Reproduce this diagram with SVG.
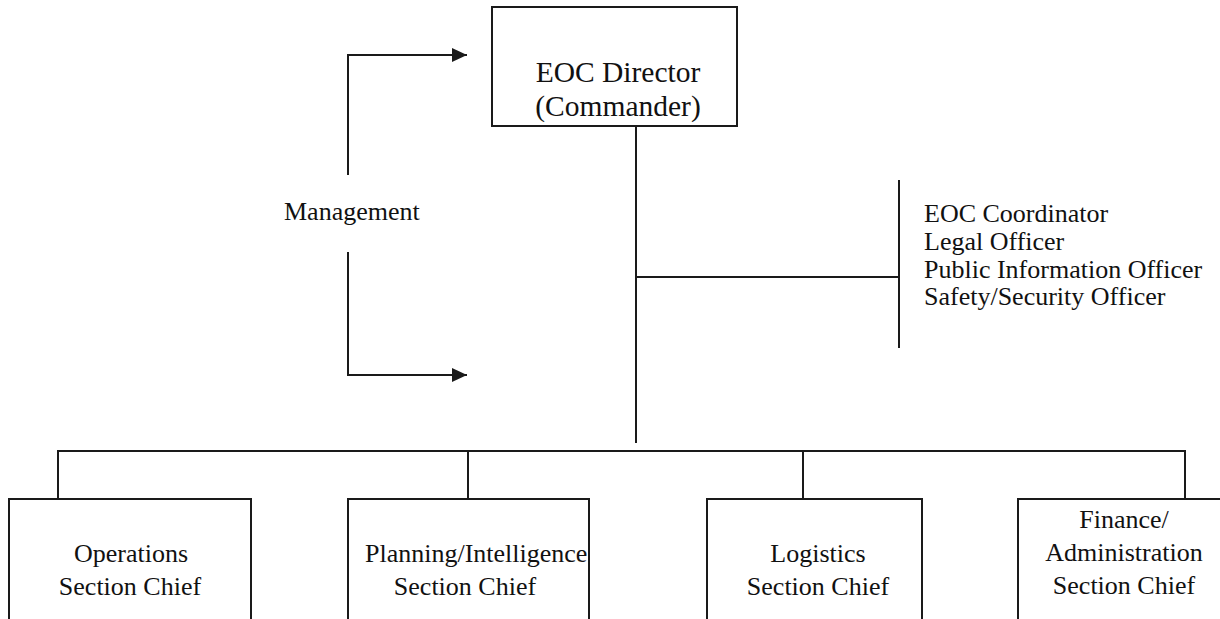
<svg xmlns="http://www.w3.org/2000/svg" width="1220" height="619" viewBox="0 0 1220 619">
<style>
.box{fill:#fff;stroke:#1a1a1a;stroke-width:2}
.ln{fill:none;stroke:#1a1a1a;stroke-width:2}
text{font-family:"Liberation Serif","Times New Roman",serif;fill:#111;font-size:26px}
.c{text-anchor:middle}
.big{font-size:29.5px}
</style>
<defs>
<marker id="ah" markerWidth="16" markerHeight="14" refX="15" refY="7" orient="auto" markerUnits="userSpaceOnUse">
<path d="M0,0 L15,7 L0,14 Z" fill="#1a1a1a"/>
</marker>
</defs>
<rect width="1220" height="619" fill="#fff"/>
<g id="connectors">
<path class="ln" d="M348,175 V55 H467" marker-end="url(#ah)"/>
<path class="ln" d="M348,252 V375 H467" marker-end="url(#ah)"/>
<path class="ln" d="M636,127 V443"/>
<path class="ln" d="M636,277 H899"/>
<path class="ln" d="M899,180 V348"/>
<path class="ln" d="M58,499 V451 H1185 V499"/>
<path class="ln" d="M468,451 V499"/>
<path class="ln" d="M803,451 V499"/>
</g>
<g id="director">
<rect class="box" x="492" y="7" width="245" height="119"/>
<text class="c big" x="618" y="82">EOC Director</text>
<text class="c big" x="618" y="116">(Commander)</text>
</g>
<g id="management">
<text x="284" y="220">Management</text>
</g>
<g id="staff">
<text x="924" y="222">EOC Coordinator</text>
<text x="924" y="250">Legal Officer</text>
<text x="924" y="278">Public Information Officer</text>
<text x="924" y="305">Safety/Security Officer</text>
</g>
<g id="operations">
<rect class="box" x="9" y="499" width="242" height="130"/>
<text class="c" x="131" y="562">Operations</text>
<text class="c" x="130" y="595">Section Chief</text>
</g>
<g id="planning">
<rect class="box" x="348" y="499" width="241" height="130"/>
<text x="365" y="562">Planning/Intelligence</text>
<text class="c" x="465" y="595">Section Chief</text>
</g>
<g id="logistics">
<rect class="box" x="707" y="499" width="215" height="130"/>
<text class="c" x="818" y="562">Logistics</text>
<text class="c" x="818" y="595">Section Chief</text>
</g>
<g id="finance">
<rect class="box" x="1018" y="499" width="220" height="130"/>
<text class="c" x="1124" y="528">Finance/</text>
<text class="c" x="1124" y="561">Administration</text>
<text class="c" x="1124" y="594">Section Chief</text>
</g>
</svg>
